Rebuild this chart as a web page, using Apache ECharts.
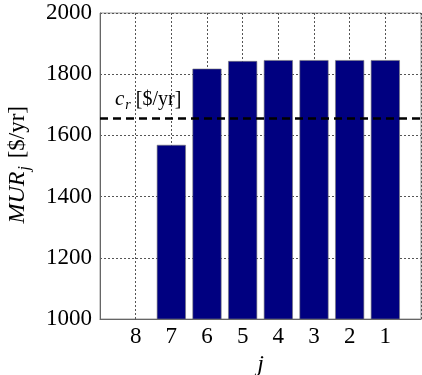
<!DOCTYPE html>
<html><head><meta charset="utf-8">
<script src="https://cdn.jsdelivr.net/npm/echarts@6/dist/echarts.min.js"></script>
<style>html,body{margin:0;padding:0;background:#fff}#c{width:422px;height:375px}</style>
</head><body><div id="c"></div>
<script>
const categories = ['', '8', '7', '6', '5', '4', '3', '2', '1', ''];
const murValues = [null, null, 1569, 1818, 1843, 1846, 1846, 1846, 1846, null];
const crValue = 1656;
const yTicks = [1000, 1200, 1400, 1600, 1800, 2000];

const chart = echarts.init(document.getElementById('c'), null, {renderer: 'canvas'});
const serif = '"Liberation Serif", "DejaVu Serif", serif';
chart.setOption({
  animation: false,
  grid: {left: 100, right: 1, top: 13, bottom: 56, show: true, borderColor: '#999', borderWidth: 1, containLabel: false, outerBoundsMode: 'none'},
  graphic: [{
    type: 'text', left: 6, top: 106, rotation: Math.PI / 2,
    style: {
      text: '{i|MUR}{s|j}{n| [$/yr]}',
      rich: {
        i: {fontFamily: serif, fontStyle: 'italic', fontSize: 24, fill: '#000'},
        s: {fontFamily: serif, fontStyle: 'italic', fontSize: 16, fill: '#000', verticalAlign: 'bottom', padding: [14, 2, 0, 1]},
        n: {fontFamily: serif, fontSize: 23, fill: '#000'}
      }
    }
  }],
  xAxis: {
    type: 'category', data: categories, boundaryGap: false,
    name: 'j', nameLocation: 'middle', nameGap: 29,
    nameTextStyle: {fontFamily: serif, fontStyle: 'italic', fontSize: 24, color: '#000'},
    axisLine: {lineStyle: {color: '#666', width: 1}},
    axisTick: {show: false},
    axisLabel: {fontFamily: serif, fontSize: 23, color: '#000', margin: 6, interval: 0},
    splitLine: {show: true, lineStyle: {type: [2, 2], color: '#555', width: 1}}
  },
  yAxis: {
    type: 'value', min: yTicks[0], max: yTicks[yTicks.length - 1], interval: 200,
    axisLine: {show: true, lineStyle: {color: '#666', width: 1}},
    axisTick: {show: false},
    axisLabel: {fontFamily: serif, fontSize: 23, color: '#000', margin: 8, formatter: v => String(v)},
    splitLine: {show: true, lineStyle: {type: [2, 2], color: '#555', width: 1}}
  },
  series: [{
    type: 'bar', data: murValues, barWidth: 29,
    itemStyle: {color: '#000080', borderColor: '#777', borderWidth: 0.6},
    markLine: {
      symbol: 'none', silent: true,
      lineStyle: {color: '#000', type: [8, 5], width: 2.5},
      label: {
        show: true, position: 'insideStartTop', distance: [15, 6],
        formatter: '{i|c}{s|r}{n| [$/yr]}',
        rich: {
          i: {fontFamily: serif, fontStyle: 'italic', fontSize: 21, color: '#000'},
          s: {fontFamily: serif, fontStyle: 'italic', fontSize: 14, color: '#000', verticalAlign: 'bottom', padding: [12, 0, 0, 1]},
          n: {fontFamily: serif, fontSize: 20, color: '#000'}
        }
      },
      data: [{yAxis: crValue}]
    }
  }]
});
</script></body></html>
